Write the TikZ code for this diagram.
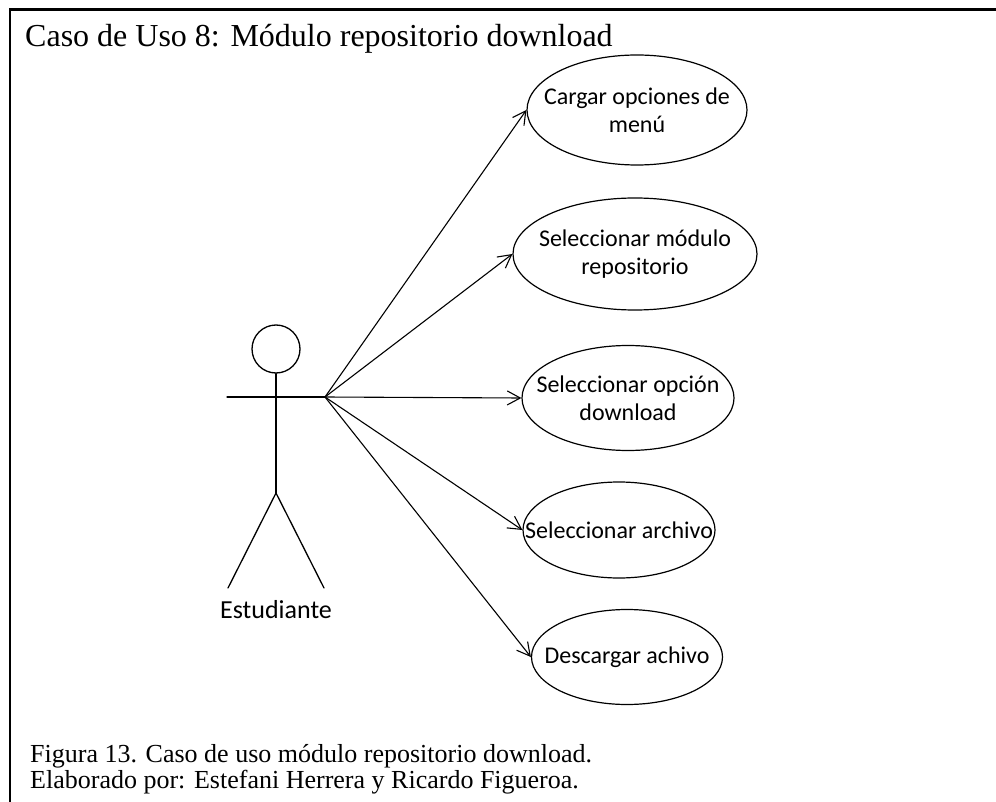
\documentclass[tikz,border=0pt]{standalone}
\usepackage{fontspec}
\setmainfont{Liberation Serif}
\newfontfamily\ucfont{Carlito}
\usetikzlibrary{shapes.geometric,arrows.meta}

\begin{document}
\begin{tikzpicture}[x=1pt,y=-1pt,
  line cap=round,
  usecase/.style={draw, ellipse, line width=1.2pt, inner sep=0pt},
  uctext/.style={align=center, inner sep=0pt,
    font=\ucfont\fontsize{24}{28}\selectfont},
  limb/.style={draw, line width=1.3pt},
  assoc/.style={draw, line width=1.1pt,
    -{Straight Barb[length=13pt,width=14pt,line width=1.1pt]}},
  frameline/.style={draw, line width=2.2pt}]

% page extent
\useasboundingbox (0,0) rectangle (996,802);

% open frame: top and left edges
\draw[frameline, line cap=butt] (996,9.5) -- (10,9.5) -- (10,802);

% heading and caption
\node[anchor=base west, font=\fontsize{32}{36}\selectfont, inner sep=0pt] (title)
  at (25,47) {Caso de Uso 8: Módulo repositorio download};
\node[anchor=base west, font=\fontsize{26}{26}\selectfont, inner sep=0pt] (cap1)
  at (30,762) {Figura 13. Caso de uso módulo repositorio download.};
\node[anchor=base west, font=\fontsize{26}{26}\selectfont, inner sep=0pt] (cap2)
  at (30,788) {Elaborado por: Estefani Herrera y Ricardo Figueroa.};

% actor
\node[draw, circle, line width=1.3pt, minimum size=48pt, inner sep=0pt] (head) at (276,349) {};
\coordinate (hip) at (276,493);
\coordinate (lhand) at (227,397);
\coordinate (hand) at (325,397);
\coordinate (lfoot) at (228,588);
\coordinate (rfoot) at (324,588);
\draw[limb] (head.south) -- (hip);
\draw[limb] (lhand) -- (hand);
\draw[limb] (lfoot) -- (hip) -- (rfoot);
\node[anchor=base, inner sep=0pt, font=\ucfont\fontsize{26}{30}\selectfont] (actor)
  at (276,618) {Estudiante};

% use cases
\node[usecase, minimum width=220pt, minimum height=110pt,
  label={[uctext]center:{Cargar opciones de\\menú}}] (uc1) at (637,110) {};
\node[usecase, minimum width=244pt, minimum height=112pt,
  label={[uctext]center:{Seleccionar módulo\\repositorio}}] (uc2) at (635,254) {};
\node[usecase, minimum width=212pt, minimum height=105pt,
  label={[uctext]center:{Seleccionar opción\\download}}] (uc3) at (628,398) {};
\node[usecase, minimum width=192pt, minimum height=96pt,
  label={[uctext]center:{Seleccionar archivo}}] (uc4) at (619,530) {};
\node[usecase, minimum width=191pt, minimum height=95pt,
  label={[uctext]center:{Descargar achivo}}] (uc5) at (627,657) {};

% associations
\foreach \u in {uc1,uc2,uc3,uc4,uc5}
  \draw[assoc] (hand) -- (\u.west);
\end{tikzpicture}
\end{document}
